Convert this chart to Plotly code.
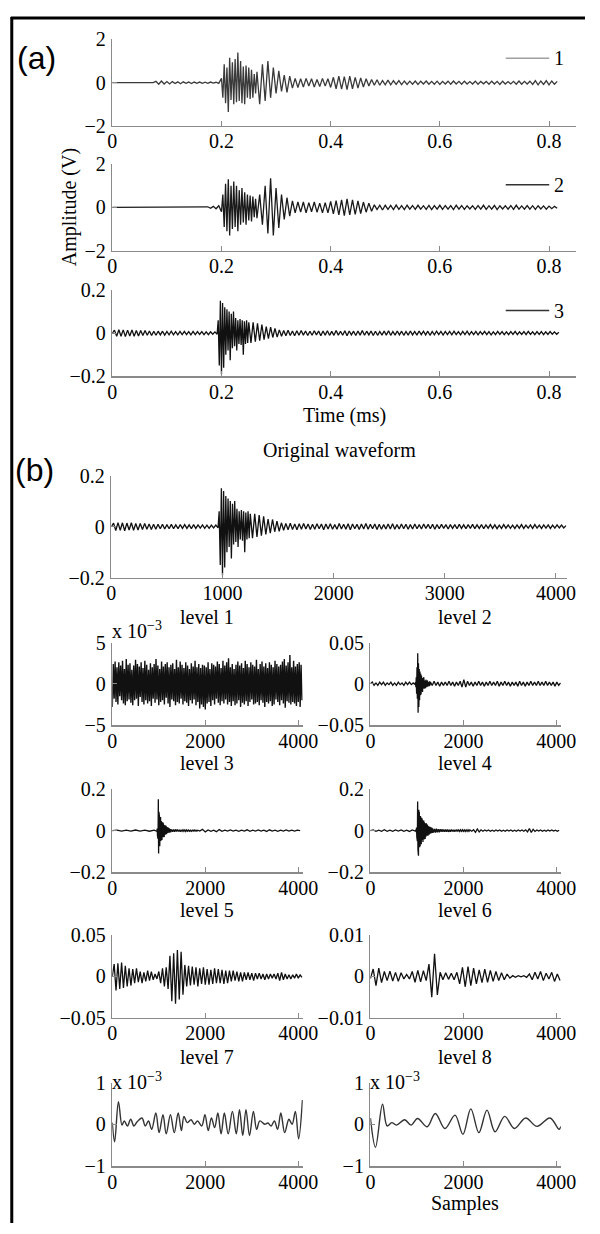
import plotly.graph_objects as go

W, H = 600, 1234

# ---------------- DATA ----------------
# Panel (a) signals: segments of (start time [ms], step [ms], values)
# Signal 1 and 2 values in units of 0.01 V, signal 3 in units of 0.001 V
SIG1_UNIT = 0.01
SIG1_SEGMENTS = [
    (0.0, 0.0375, [0, 0, 0]),
    (0.08, 0.005, [6, -7, 8, -6, 5, -6, 5, -4, 4, -5, 4, -3, 3, -4, 3, -3, 3, -3, 2, -3, 3, -2, 2, -3]),
    (0.2, 0.0025, [20, -70, 85, -95, 70, -135, 115, -80, 95, -100, 110, -90, 140, -85, 100, -95,
                   75, -100, 80, -70, 70, -75, 60, -70, 40, -50]),
    (0.265, 0.005, [50, -100, 85, -85, 100, -70, 70, -50, 55, -40, 35, -45, 30]),
    (0.33, 0.005, [-25, 20, -22, 18, -20, 20]),
    (0.36, 0.005, [-15, 18, -20, 15, -18, 20, -15, 18]),
    (0.40, 0.005, [-22, 25, -28, 30, -30, 28, -32, 30, -28, 25, -25, 22, -20, 18]),
    (0.47, 0.005, [-15, 15, -12, 14, -12, 10, -10, 12, -10, 9, -8, 10, -9, 8, -8, 7]),
    (0.55, 0.005, [-7, 8, -8, 7, -6, 8, -7, 6, -7, 7, -8, 6, -6, 7, -7, 8, -6, 6, -7, 7,
                   -6, 5, -6, 7, -7, 6, -5, 6, -7, 7, -6, 6, -8, 7, -6, 5, -6, 6, -7, 8,
                   -7, 6, -6, 7, -8, 9, -10, 8, -8, 9, -10, 8, -7, 6]),
]

SIG2_UNIT = 0.01
SIG2_SEGMENTS = [
    (0.0, 0.0425, [0, 0, 0, 0, 0]),
    (0.175, 0.005, [3, -4, 5, -6, 8]),
    (0.2, 0.0025, [-20, 60, -90, 110, -110, 130, -130, 100, -100, 120, -90, 100, -110, 80, -80, 90,
                   -70, 70, -80, 60, -60, 55, -65, 50, -45, 40]),
    (0.265, 0.005, [-50, 60, -80, 100, -120, 135, -130, 90, -95, 60, -55, 45, -40]),
    (0.33, 0.005, [30, -25, 25, -22, 25, -25, 22, -20, 25, -22, 20, -25, 22, -25]),
    (0.40, 0.005, [28, -30, 32, -35, 35, -38, 40, -35, 35, -32, 30, -28, 25, -22, 20, -18]),
    (0.48, 0.005, [12, -10, 10, -12, 10, -9, 9, -10, 11, -9, 8, -10, 10, -8, 9, -9, 10, -8, 8, -9,
                   9, -10, 8, -8, 10, -9, 9, -8, 8, -10, 10, -8, 9, -9, 8, -7, 8, -9, 9, -8,
                   10, -9, 8, -8, 9, -10, 8, -7, 8, -8, 9, -9, 10, -8, 7, -8, 9, -8, 8, -9,
                   8, -7, 7, -8, 6, -6, 5, -4]),
]

SIG3_UNIT = 0.001
SIG3_SEGMENTS = [
    (0.0, 0.004, [0, 14, -15, 16, -14, 15, -16, 14, -13, 15, -14, 12, -13, 12, -11, 12, -10, 10, -11, 9,
                  -10, 9, -8, 9, -9, 8, -8, 9, -8, 7, -8, 8, -7, 8, -7, 7, -8, 8, -7, 7,
                  -6, 7, -7, 6, -7, 6, -5, 6]),
    (0.192, 0.002, [-5, 60, -150, 150, -190, 140, -160, 120, -100, 110, -80, 100, -125, 90, -70, 100,
                    -60, 70, -80, 60, -50, 65, -55, 60, -100, 55, -50, 60, -45, 50]),
    (0.254, 0.004, [-45, 50, -40, 45, -35, 40, -30, 30, -25, 28, -20, 22]),
    (0.302, 0.004, [-18, 15, -14, 12, -12, 13, -11, 10, -12, 11, -10, 12, -9, 10, -11, 9, -10, 11, -8, 10,
                    -12, 10, -9, 11, -10, 8, -10, 12, -9, 9, -10, 11, -12, 10, -8, 9, -11, 10, -9, 12,
                    -10, 9, -8, 10, -11, 9, -10, 8, -9, 10, -9, 11, -10, 8, -9, 10, -8, 9, -10, 8,
                    -9, 10, -8, 8, -9, 10, -7, 9, -8, 9, -10, 8, -8, 9, -7, 8, -9, 8, -7, 8,
                    -8, 9, -7, 7, -8, 8, -7, 9, -8, 7, -7, 8, -8, 7, -6, 8, -7, 7, -8, 6,
                    -7, 8, -6, 7, -7, 6, -7, 7, -6, 8, -7, 6, -6, 7, -7, 8, -6, 6, -7, 7,
                    -6, 7, -7, 6, -6, 7, -5, 6, -5, 4]),
]
SAMPLES_PER_MS = 5000  # 5 MHz sampling: signal 3 is also the "Original waveform" in samples

# Decomposition levels: segments of (start sample, step in samples, values)
L1_UNIT = 0.1  # plotted in units of 1e-3
L1_SEGMENTS = [
    (0, 20, [-28, 24, -18, 27, -22, 20, -25, 26, -15, 22, -20, 28, -24, 18, -26, 30, -21, 23, -19, 25,
             -23, 17, -26, 22, -20, 29, -18, 24, -27, 21, -16, 26, -22, 19, -25, 28, -20, 23, -24, 17,
             -21, 25, -27, 20, -18, 24, -23, 30, -19, 22, -26, 18, -22, 27, -20, 21, -25, 24, -17, 26,
             -24, 20, -28, 23, -19, 25, -21, 18, -26, 29, -22, 20, -24, 27, -18, 23, -25, 19, -21, 26,
             -23, 22, -27, 18, -20, 25, -24, 21, -19, 28, -26, 20, -22, 24, -30, 19, -25, 23, -28, 22,
             -31, 20, -24, 26, -22, 18, -27, 25, -20, 23, -25, 21, -18, 27, -23, 24, -26, 19, -21, 28,
             -24, 22, -19, 26, -25, 31, -22, 20, -27, 24, -21, 18, -26, 23, -24, 27, -20, 22, -28, 25,
             -23, 19, -25, 28, -21, 24, -27, 20, -22, 26, -19, 23, -25, 21, -24, 29, -22, 18, -26, 24,
             -20, 27, -23, 21, -28, 25, -22, 19, -24, 26, -21, 23, -27, 20, -25, 28, -19, 24, -22, 21,
             -26, 23, -20, 27, -24, 30, -29, 22, -21, 26, -23, 35, -25, 20, -22, 28, -24, 21, -27, 24,
             -22, 26, -28, 23, -20]),
]
L2_UNIT = 0.001
L2_SEGMENTS = [
    (0, 40, [0, 2, -2, 1, -2, 2, -1, 2, -2, 1, -1, 2, -2, 1, -2, 2, -1, 1, -2, 2, -1, 2, -1, 1, -1]),
    (970, 8, [2, -4, 8, -12, 20, -18, 37, -35, 25, -28, 18, -20, 15, -14, 12, -13, 10, -9, 8, -10,
              7, -6, 8, -6, 5, -6, 4, -5, 5, -4, 3, -4, 4, -3, 3, -3, 2, -3, 3, -2]),
    (1290, 40, [2, -2, 3, -2, 2, -3, 2, -2, 2, -2, 3, -2, 2, -3, 2, -2, 3, -4, 5, -4,
                3, -2, 2, -3, 2, -2, 3, -2, 2, -3, 2, -2, 3, -2, 2, -2, 3, -3, 2, -2,
                3, -2, 2, -3, 2, -2, 2, -3, 3, -2, 2, -3, 2, -2, 3, -2, 2, -2, 3, -2,
                2, -2, 3, -2, 2, -2, 2, -3, 2, -2, 1]),
]
L3_UNIT = 0.001
L3_SEGMENTS = [
    (0, 100, [0, 2, -2, 2, -2, 3, -2, 2, -3, 2]),
    (960, 6, [-3, 10, -25, 60, -40, 150, -110, 90, -80, 70, -75, 60, -55, 65, -50, 45, -50, 40, -45, 35,
              -38, 40, -30, 35, -32, 28, -30, 25, -22, 26, -20, 22, -18, 20, -17, 15, -16, 14, -12, 13,
              -11, 12, -10, 9, -10, 8, -9, 8, -7, 8]),
    (1260, 20, [-7, 6, -6, 5, -5, 6, -4, 5, -4, 4, -5, 4, -3, 4, -3, 3, -4, 3, -3, 3,
                -3, 2, -3, 2, -2, 3, -2, 2, -2, 2]),
    (1880, 60, [-2, 6, -6, 3, -3, 2, -5, 5, -3, 2, -2, 3, -2, 2, -3, 2, -2, 4, -3, 2,
                -2, 3, -2, 2, -4, 4, -2, 2, -3, 2, -2, 3, -2, 2, -2, 2, 0]),
]
L4_UNIT = 0.001
L4_SEGMENTS = [
    (0, 60, [0, 3, -3, 2, -3, 4, -3, 2, -3, 3, -2, 3, -3, 2, -4, 3, -2]),
    (980, 6, [4, -8, 15, -30, 60, -50, 140, -90, 80, -120, 100, -70, 90, -80, 60, -75, 70, -60, 55, -65,
              60, -50, 55, -45, 50, -55, 45, -40, 48, -42, 40, -38, 35, -40, 32, -30, 35, -28, 30, -25,
              28, -24, 22, -25, 20, -22, 18, -20, 17, -16, 18, -15, 14, -15, 13, -12, 12, -11, 10, -11]),
    (1340, 20, [9, -10, 8, -9, 9, -8, 7, -8, 7, -6, 7, -6, 5, -6, 6, -5, 5, -6, 4, -5,
                5, -4, 4, -5, 4, -4, 5, -4, 3, -4, 4, -3, 4, -3, 3, -4, 3, -3, 4, -3]),
    (2140, 40, [3, -3, 4, -8, 8, -6, 4, -3, 3, -2, 3, -3, 2, -3, 3, -2, 3, -3, 2, -3,
                3, -2, 3, -3, 2, -3, 3, -2, 3, -3, 4, -6, 10, -9, 6, -4, 3, -2, 3, -3,
                2, -3, 3, -2, 3, -2, 2, -3, 2]),
]
L5_UNIT = 0.001
L5_SEGMENTS = [
    (0, 40, [0, 15, -17, 16, -15, 17, -14, 13,
             -12, 10, -11, 9, -8, 10, -7, 6, -8, 5, -6, 7, -5, 6, -4,
             3, -3, 6, -8, 10,
             -12, 11, -15,
             25, -30, 28, -33, 32, -28, 30, -22,
             14, -12, 13, -11, 12, -10, 11, -12, 10, -9, 11, -10, 9, -10, 8, -9, 10, -8, 9, -8, 8, -9, 7, -8,
             7, -6, 7, -5, 6, -6, 5, -6, 5, -4, 5, -4, 4, -5, 4, -3, 4, -3, 3, -4, 3, -3, 3, -2, 3,
             -3, 4, -5, 5, -4, 3, -3, 2, -3, 2, -2, 3, -2, 2, -1]),
]
L6_UNIT = 0.0001
L6_SEGMENTS = [
    (0, 60, [-5, 18, -22, 20, -15,
             12, -10, 13, -11, 10, -12, 9,
             -6, 5, -6,
             12, -14, 15, -13, 14, -10,
             30, -50, 55, -45,
             10, -8, 9, -7, 8, -8, 10,
             -18, 22, -25, 24, -22, 20, -18,
             16, -15, 18, -14, 15, -12, 12,
             -10, 9, -8, 6, -4,
             2, -2, 2, -1, 2, -2,
             6, -8, 10, -6, 12, -10, 8,
             -6, 10, -12, 6, -10]),
]
# Levels 7 and 8: smooth curves read as turning points, in units of 1e-3
L7_X = [0, 50, 132, 208, 257, 326, 396, 465, 535, 639, 708, 778, 847, 937, 1007, 1090, 1160, 1250, 1333,
        1417, 1486, 1542, 1611, 1694, 1764, 1833, 1924, 1993, 2063, 2132, 2201, 2271, 2340, 2410, 2493,
        2583, 2667, 2736, 2806, 2875, 2951, 3035, 3104, 3174, 3278, 3347, 3417, 3486, 3556, 3625, 3708,
        3799, 3868, 3938, 4007, 4090]
L7_Y = [0.04, -0.42, 0.54, -0.02, 0.08, -0.04, 0.12, -0.04, 0.06, 0.15, -0.04, 0.08, -0.12, 0.27, -0.2,
        0.23, -0.23, 0.23, -0.2, 0.27, -0.15, 0.19, 0.04, 0.11, 0.0, 0.08, -0.04, 0.23, -0.15, 0.15,
        -0.08, 0.27, -0.23, 0.27, -0.23, 0.31, -0.23, 0.35, -0.27, 0.35, -0.27, 0.31, -0.12, 0.08, 0.0,
        0.03, -0.04, 0.08, -0.12, 0.27, -0.2, 0.12, 0.0, 0.31, -0.35, 0.58]
L8_X = [0, 110, 260, 360, 460, 560, 736, 875, 1014, 1222, 1396, 1604, 1820, 1990, 2160, 2333, 2507,
        2681, 2889, 3097, 3340, 3583, 3861, 4060, 4096]
L8_Y = [0.15, -0.55, 0.48, -0.04, 0.04, -0.02, 0.11, -0.02, 0.14, -0.06, 0.26, -0.1, 0.22, -0.24, 0.37,
        -0.2, 0.34, -0.18, 0.19, -0.1, 0.15, -0.05, 0.15, -0.12, -0.05]

A_XTICKS = [0, 0.2, 0.4, 0.6, 0.8]
B_XTICKS = [0, 1000, 2000, 3000, 4000]
L_XTICKS = [0, 2000, 4000]
LEVEL_TITLES = ["level 1", "level 2", "level 3", "level 4", "level 5", "level 6", "level 7", "level 8"]
LEGEND_LABELS = ["1", "2", "3"]


def expand(segments, unit):
    xs, ys = [], []
    for start, step, vals in segments:
        for i, v in enumerate(vals):
            xs.append(start + i * step)
            ys.append(v * unit)
    return xs, ys


# ---------------- LAYOUT (pixel boxes) ----------------
SERIF = "Liberation Serif, Times New Roman, serif"
SANS = "Liberation Sans, Arial, sans-serif"
AX_COL = "#8a8a8a"

# panel: (x0, x1, ytop, ybottom) in page pixels
BOX = {
    1: (111, 591, 29, 117), 2: (111, 591, 156, 244), 3: (111, 591, 284, 372),
    4: (110, 581, 473, 577),
    5: (111, 308, 643, 727), 6: (378, 575, 643, 727),
    7: (111, 308, 792, 877), 8: (378, 575, 792, 877),
    9: (111, 308, 941, 1025), 10: (378, 575, 941, 1025),
    11: (111, 308, 1091, 1176), 12: (378, 575, 1091, 1176),
}


def px(x):
    return x / W


def py(y):
    return 1 - y / H


fig = go.Figure()

t1, v1 = expand(SIG1_SEGMENTS, SIG1_UNIT)
t2, v2 = expand(SIG2_SEGMENTS, SIG2_UNIT)
t3, v3 = expand(SIG3_SEGMENTS, SIG3_UNIT)
s3 = [t * SAMPLES_PER_MS for t in t3]

traces = [
    (1, t1, v1, "#3a3a3a", 1.3, "linear"),
    (2, t2, v2, "#1a1a1a", 1.3, "linear"),
    (3, t3, v3, "#111111", 1.3, "linear"),
    (4, s3, v3, "#111111", 1.3, "linear"),
]
for k, (segs, unit) in enumerate([(L1_SEGMENTS, L1_UNIT), (L2_SEGMENTS, L2_UNIT), (L3_SEGMENTS, L3_UNIT),
                                  (L4_SEGMENTS, L4_UNIT), (L5_SEGMENTS, L5_UNIT), (L6_SEGMENTS, L6_UNIT)]):
    xs, ys = expand(segs, unit)
    traces.append((5 + k, xs, ys, "#111111", 1.4 if k == 0 else 1.3, "linear"))
traces.append((11, L7_X, L7_Y, "#333333", 1.4, "spline"))
traces.append((12, L8_X, L8_Y, "#333333", 1.4, "spline"))

for idx, xs, ys, col, lw, shape in traces:
    sfx = "" if idx == 1 else str(idx)
    fig.add_trace(go.Scatter(x=xs, y=ys, mode="lines", xaxis="x" + sfx, yaxis="y" + sfx,
                             line=dict(color=col, width=lw, shape=shape), showlegend=False,
                             hoverinfo="skip"))

YCONF = {
    1: ([-2, 2], [-2, 0, 2]), 2: ([-2, 2], [-2, 0, 2]), 3: ([-0.2, 0.2], [-0.2, 0, 0.2]),
    4: ([-0.2, 0.2], [-0.2, 0, 0.2]),
    5: ([-5, 5], [-5, 0, 5]), 6: ([-0.05, 0.05], [-0.05, 0, 0.05]),
    7: ([-0.2, 0.2], [-0.2, 0, 0.2]), 8: ([-0.2, 0.2], [-0.2, 0, 0.2]),
    9: ([-0.05, 0.05], [-0.05, 0, 0.05]), 10: ([-0.01, 0.01], [-0.01, 0, 0.01]),
    11: ([-1, 1], [-1, 0, 1]), 12: ([-1, 1], [-1, 0, 1]),
}

layout = dict(width=W, height=H, margin=dict(l=0, r=0, t=0, b=0),
              paper_bgcolor="white", plot_bgcolor="white", showlegend=False)
tickfont = dict(family=SERIF, size=20, color="black")
for idx in range(1, 13):
    x0, x1, yt, yb = BOX[idx]
    sfx = "" if idx == 1 else str(idx)
    if idx <= 3:
        xr, xt = [0, 0.85], A_XTICKS
    elif idx == 4:
        xr, xt = [0, 4096], B_XTICKS
    else:
        xr, xt = [0, 4096], L_XTICKS
    yr, yt_vals = YCONF[idx]
    common = dict(showline=True, linecolor=AX_COL, linewidth=1.5, showgrid=False, zeroline=False,
                  ticks="inside", ticklen=5, tickwidth=1, tickcolor=AX_COL, tickfont=tickfont,
                  fixedrange=True)
    layout["xaxis" + sfx] = dict(domain=[px(x0), px(x1)], range=xr, tickvals=xt,
                                 anchor="y" + sfx, ticklabelstandoff=-3, **common)
    layout["yaxis" + sfx] = dict(domain=[py(yb), py(yt)], range=yr, tickvals=yt_vals,
                                 anchor="x" + sfx, ticklabelstandoff=1, **common)

ann = []


def text(x, y, s, size=20, family=SERIF, xanchor="center", yanchor="middle", angle=0):
    ann.append(dict(x=px(x), y=py(y), xref="paper", yref="paper", text=s, showarrow=False,
                    xanchor=xanchor, yanchor=yanchor, textangle=angle,
                    font=dict(family=family, size=size, color="black")))


text(351, 412, "Time (ms)")
text(67, 200, "Amplitude (V)", angle=-90)
text(346, 447, "Original waveform")
text(476, 1214, "Samples")
text(10, 48, "(a)", size=32, family=SANS, xanchor="left")
text(8, 467, "(b)", size=32, family=SANS, xanchor="left")
rows_y = [617, 766, 915, 1065]
for i, title in enumerate(LEVEL_TITLES):
    cx = 209 if i % 2 == 0 else 476
    text(cx, rows_y[i // 2], title)
for (xx, yy) in [(109, 630), (109, 1089), (376, 1089)]:
    text(xx, yy, "x 10<sup>−3</sup>", xanchor="left")

shapes = []
leg_y = [48, 177, 305]
leg_col = ["#a0a0a0", "#333333", "#333333"]
for i, lab in enumerate(LEGEND_LABELS):
    shapes.append(dict(type="line", xref="paper", yref="paper", x0=px(518), x1=px(563),
                       y0=py(leg_y[i]), y1=py(leg_y[i]), line=dict(color=leg_col[i], width=1.5)))
    text(573, leg_y[i], lab)

# outer frame (left and top edges visible)
shapes.append(dict(type="line", xref="paper", yref="paper", x0=px(7), x1=px(7), y0=0, y1=py(6),
                   line=dict(color="black", width=3)))
shapes.append(dict(type="line", xref="paper", yref="paper", x0=px(6), x1=1, y0=py(7), y1=py(7),
                   line=dict(color="black", width=3)))

layout["annotations"] = ann
layout["shapes"] = shapes
fig.update_layout(**layout)
fig.write_html("out.html", config={"displayModeBar": False, "staticPlot": True},
               post_script="document.body.style.margin='0';")
